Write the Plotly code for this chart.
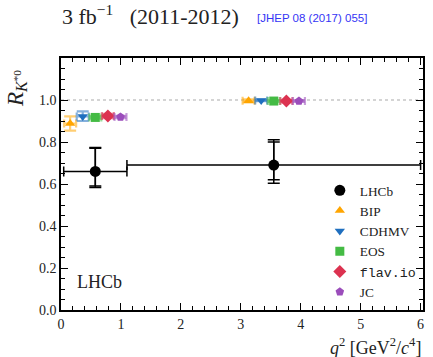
import plotly.graph_objects as go

# LHCb measurements
lhcb_x = [0.5725, 3.55]
lhcb_xlo = [0.045, 1.1]
lhcb_xhi = [1.1, 6.0]
lhcb_y = [0.66, 0.69]
lhcb_stat_up = [0.11, 0.11]
lhcb_stat_dn = [0.07, 0.07]
lhcb_syst = [0.03, 0.05]

# Theory predictions
models = ["BIP", "CDHMV", "EOS", "flav.io", "JC"]
symbols = ["triangle-up", "triangle-down", "square", "diamond", "pentagon"]
colors = ["#ffa500", "#1f6fbf", "#44bb44", "#dc3250", "#9b4dbb"]
light = ["rgba(255,165,0,0.55)", "rgba(31,111,191,0.55)", "rgba(68,187,68,0.55)",
         "rgba(220,50,80,0.55)", "rgba(155,77,187,0.55)"]
pred_low = [0.888, 0.922, 0.917, 0.924, 0.919]
pred_low_up = [0.034, 0.024, 0.006, 0.010, 0.006]
pred_low_dn = [0.034, 0.022, 0.006, 0.010, 0.006]
pred_high = [0.996, 0.998, 0.995, 0.995, 0.995]
pred_high_up = [0.007, 0.004, 0.004, 0.006, 0.004]
pred_high_dn = [0.007, 0.004, 0.004, 0.006, 0.004]
offsets = [-0.42, -0.21, 0.0, 0.21, 0.42]
half_w = 0.1

x_ticks = [0, 1, 2, 3, 4, 5, 6]
y_ticks = [0.0, 0.2, 0.4, 0.6, 0.8, 1.0]

SERIF = "Liberation Serif"

fig = go.Figure()

# reference line at 1
fig.add_trace(go.Scatter(x=[0, 6.04], y=[1, 1], mode="lines",
                         line=dict(color="#aaaaaa", width=1.2, dash="dot"),
                         showlegend=False, hoverinfo="skip"))

def msize(sym):
    return 10 if sym == "diamond" else 9

# predictions
for i, m in enumerate(models):
    xs = [lhcb_x[0] + offsets[i], lhcb_x[1] + offsets[i]]
    ys = [pred_low[i], pred_high[i]]
    up = [pred_low_up[i], pred_high_up[i]]
    dn = [pred_low_dn[i], pred_high_dn[i]]
    fig.add_trace(go.Scatter(
        x=xs, y=ys, mode="markers",
        marker=dict(symbol=symbols[i], color=colors[i], size=msize(symbols[i]),
                    line=dict(width=0)),
        error_x=dict(type="constant", value=half_w, color=light[i], thickness=2.2, width=4),
        error_y=dict(type="data", symmetric=False, array=up, arrayminus=dn,
                     color=light[i], thickness=2.2, width=6),
        showlegend=False))

# LHCb total errors
tot_up = [(a**2 + b**2) ** 0.5 for a, b in zip(lhcb_stat_up, lhcb_syst)]
tot_dn = [(a**2 + b**2) ** 0.5 for a, b in zip(lhcb_stat_dn, lhcb_syst)]
fig.add_trace(go.Scatter(
    x=lhcb_x, y=lhcb_y, mode="markers",
    marker=dict(symbol="circle", color="black", size=1),
    error_y=dict(type="data", symmetric=False, array=lhcb_stat_up, arrayminus=lhcb_stat_dn,
                 color="black", thickness=1.5, width=6),
    showlegend=False, hoverinfo="skip"))
fig.add_trace(go.Scatter(
    x=lhcb_x, y=lhcb_y, mode="markers",
    marker=dict(symbol="circle", color="black", size=11),
    error_x=dict(type="data", symmetric=False,
                 array=[h - c for h, c in zip(lhcb_xhi, lhcb_x)],
                 arrayminus=[c - l for c, l in zip(lhcb_x, lhcb_xlo)],
                 color="black", thickness=1.5, width=5),
    error_y=dict(type="data", symmetric=False, array=tot_up, arrayminus=tot_dn,
                 color="black", thickness=1.5, width=6),
    showlegend=False))

# legend entries
fig.add_trace(go.Scatter(x=[None], y=[None], mode="markers", name="LHCb",
                         marker=dict(symbol="circle", color="black", size=11)))
for i, m in enumerate(models):
    label = m if m != "flav.io" else '<span style="font-family:Liberation Mono">flav.io</span>'
    fig.add_trace(go.Scatter(x=[None], y=[None], mode="markers", name=label,
                             marker=dict(symbol=symbols[i], color=colors[i],
                                         size=msize(symbols[i]))))

axis_common = dict(showline=True, linecolor="black", linewidth=1.5, mirror="allticks",
                   ticks="inside", ticklen=7, tickwidth=1.2, tickcolor="black",
                   showgrid=False, zeroline=False,
                   tickfont=dict(family=SERIF, size=14, color="#222"))

fig.update_xaxes(range=[0, 6.04], tickvals=x_ticks, ticktext=[str(v) for v in x_ticks],
                 minor=dict(ticks="inside", ticklen=4, dtick=0.2, tick0=0, tickcolor="black"),
                 **axis_common)
fig.update_yaxes(range=[0, 1.2], tickvals=y_ticks, ticktext=[f"{v:.1f}" for v in y_ticks],
                 minor=dict(ticks="inside", ticklen=4, dtick=0.05, tick0=0, tickcolor="black"),
                 **axis_common)

fig.update_layout(
    width=433, height=357,
    margin=dict(l=61, r=10, t=58, b=47, autoexpand=False),
    plot_bgcolor="white", paper_bgcolor="white",
    showlegend=True,
    legend=dict(x=0.715, y=0.535, xanchor="left", yanchor="top",
                bgcolor="rgba(0,0,0,0)", font=dict(family=SERIF, size=13.3, color="#222"),
                itemwidth=30, tracegroupgap=0),
    annotations=[
        dict(text="3 fb<sup>−1</sup>&nbsp;&nbsp;&nbsp;(2011-2012)", xref="paper", yref="paper",
             x=-0.003, y=1.17, xanchor="left", yanchor="middle", showarrow=False,
             font=dict(family=SERIF, size=22, color="#222")),
        dict(text="[JHEP 08 (2017) 055]", xref="paper", yref="paper",
             x=0.536, y=1.16, xanchor="left", yanchor="middle", showarrow=False,
             font=dict(family="Liberation Sans", size=11.5, color="#3535f5")),
        dict(text="<i>R</i><sub><i>K</i><sup>*0</sup></sub>", xref="paper", yref="paper",
             x=-0.122, y=0.88, xanchor="center", yanchor="middle", showarrow=False,
             textangle=-90, font=dict(family=SERIF, size=23, color="#222")),
        dict(text="<i>q</i><sup>2</sup> [GeV<sup>2</sup>/<i>c</i><sup>4</sup>]",
             xref="paper", yref="paper", x=1.0, y=-0.145, xanchor="right", yanchor="middle",
             showarrow=False, font=dict(family=SERIF, size=18, color="#222")),
        dict(text="LHCb", xref="paper", yref="paper", x=0.04, y=0.11,
             xanchor="left", yanchor="middle", showarrow=False,
             font=dict(family=SERIF, size=18, color="#222")),
    ],
)

fig.write_html("out.html")
